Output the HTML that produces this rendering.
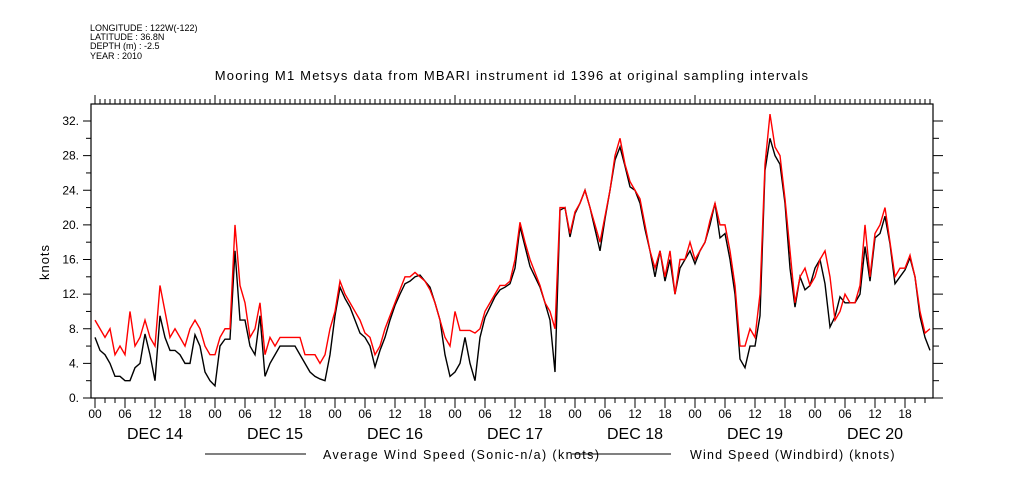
<!DOCTYPE html>
<html><head><meta charset="utf-8"><style>
body{margin:0;background:#fff}
svg{display:block;font-family:"Liberation Sans",sans-serif}
</style></head><body>
<svg id="chart" width="1009" height="504" viewBox="0 0 1009 504">
<g font-size="9" fill="#000">
<text x="90" y="31">LONGITUDE : 122W(-122)</text>
<text x="90" y="40">LATITUDE : 36.8N</text>
<text x="90" y="49">DEPTH (m) : -2.5</text>
<text x="90" y="59">YEAR : 2010</text>
</g>
<text x="512" y="80" text-anchor="middle" font-size="13" letter-spacing="1.2">Mooring M1 Metsys data from MBARI instrument id 1396 at original sampling intervals</text>
<text transform="translate(49,262) rotate(-90)" text-anchor="middle" font-size="13" letter-spacing="1">knots</text>
<g id="axes"></g>
<g id="series"></g>
<g font-size="12.5">
<line x1="205" y1="454" x2="306" y2="454" stroke="#000"/>
<text x="323" y="459" letter-spacing="1.4">Average Wind Speed (Sonic-n/a) (knots)</text>
<line x1="572" y1="454" x2="671" y2="454" stroke="#000"/>
<text x="690" y="459" letter-spacing="1.2">Wind Speed (Windbird) (knots)</text>
</g>
</svg>
<script>
const dayLabels = ["DEC 14","DEC 15","DEC 16","DEC 17","DEC 18","DEC 19","DEC 20"];
const hourLabels = ["00","06","12","18"];
const yTicks = [0,4,8,12,16,20,24,28,32];
const avgSpeed = [
7,5.5,5,4,2.5,2.5,2,2,3.5,4,
7.4,5,2,9.5,7,5.5,5.5,5,4,4,
7.3,6,3,2,1.4,6,6.8,6.8,17,9,
9,6,5,9.5,2.5,4,5,6,6,6,
6,5,4,3,2.5,2.2,2,5,9.5,12.8,
11.5,10.5,9,7.5,7,6,3.6,5.5,7,9,
10.7,12,13.2,13.5,14,14.2,13.5,12.8,11,9,
5,2.5,3,4,7,4,2,7,9.3,10.5,
11.7,12.5,12.8,13.2,15,19.8,17.5,15.2,14,12.8,
11,9,3,21.7,22,18.6,21.3,22.5,24,22,
19.5,17,20.7,24,27.5,29,26.8,24.4,24,22.5,
19.5,17,14,17,13.5,16,12,15,16,17,
15.5,17,18,20,22.5,18.5,19,16,12,4.5,
3.5,6,6,9.5,26.3,30,28,27,22.5,15,
10.5,14,12.5,13,15,16,13.2,8.2,9.4,11.7,
11,11,11,12,17.5,13.5,18.5,19,21,17.8,
13.2,14,14.8,16.2,14,9.4,7,5.5];
const windbirdSpeed = [
9,8,7,8,5,6,5,10,6,7,
9,7,6,13,10,7,8,7,6,8,
9,8,6,5,5,7,8,8,20,13,
11,7,8,11,5,7,6,7,7,7,
7,7,5,5,5,4,5,8,10,13.5,
12,11,10,9,7.5,7,5,6,8,9.5,
11,12.5,14,14,14.5,14,13.5,12.5,11,9,
7,6,10,7.8,7.8,7.8,7.5,8,10,11,
12,13,13,13.5,16,20.3,18,16,14.5,13,
11,10,8,22,22,19,21.5,22.5,24,22,
20,18,21,24,28,30,27,25,24,23,
20,17,15,17,14,17,12,16,16,18,
16,17,18,20.5,22.5,20,20,17,13,6,
6,8,7,12,27,32.8,29,28,23,17,
11,14,15,13,14,16,17,14,9,10,
12,11,11,13,20,14,19,20,22,18,
14,15,15,16.5,14,10,7.5,8];

const NS="http://www.w3.org/2000/svg";
const L=91,R=933,T=104,B=398,X0=95;
const xOf=h=>X0+h*5;
const yOf=v=>B-v*(B-121)/32;
const axes=document.getElementById('axes');
function mk(tag,attrs,parent){const e=document.createElementNS(NS,tag);for(const k in attrs)e.setAttribute(k,attrs[k]);parent.appendChild(e);return e;}
const frame=mk('rect',{x:L,y:T,width:R-L,height:B-T,fill:'none',stroke:'#000','stroke-width':1.2},axes);


for(let h=0;h<=168;h++){
  const x=xOf(h); if(x>R)break;
  const day=h%24===0, six=h%6===0;
  const t=mk('line',{x1:x,y1:T,x2:x,y2:T-(day?9:5),stroke:'#000'},axes);
  
  
  if(h%2===0){
    const b=mk('line',{x1:x,y1:B,x2:x,y2:B+(six?10:5),stroke:'#000'},axes);
    
    
  }
  if(six){
    const lb=mk('text',{x:x,y:B+20,'text-anchor':'middle','font-size':12},axes);
    lb.textContent=hourLabels[(h/6)%4];
    
    
  }
}
dayLabels.forEach((d,i)=>{
  const t=mk('text',{x:xOf(i*24+12),y:B+41,'text-anchor':'middle','font-size':16},axes);
  t.textContent=d;
  
  
});
for(let v=0;v<=34;v+=2){
  const y=yOf(v); if(y<T)break;
  const maj=v%4===0;
  const a=mk('line',{x1:L,y1:y,x2:L-(maj?8:5),y2:y,stroke:'#000'},axes);
  
  
  const b=mk('line',{x1:R,y1:y,x2:R+(maj?10:6),y2:y,stroke:'#000'},axes);
  
  
}
yTicks.forEach(v=>{
  const t=mk('text',{x:79,y:yOf(v)+4,'text-anchor':'end','font-size':12},axes);
  t.textContent=v+'.';
  
  
});
const ser=document.getElementById('series');
function line(arr,color,w,name){
  const pts=arr.map((v,i)=>xOf(i)+','+yOf(v)).join(' ');
  const p=mk('polyline',{points:pts,fill:'none',stroke:color,'stroke-width':w,'stroke-linejoin':'miter'},ser);
  
  
}
line(avgSpeed,'#000',1.4,'average-wind-speed-line');
line(windbirdSpeed,'#f00',1.4,'windbird-wind-speed-line');
</script>
</body></html>
